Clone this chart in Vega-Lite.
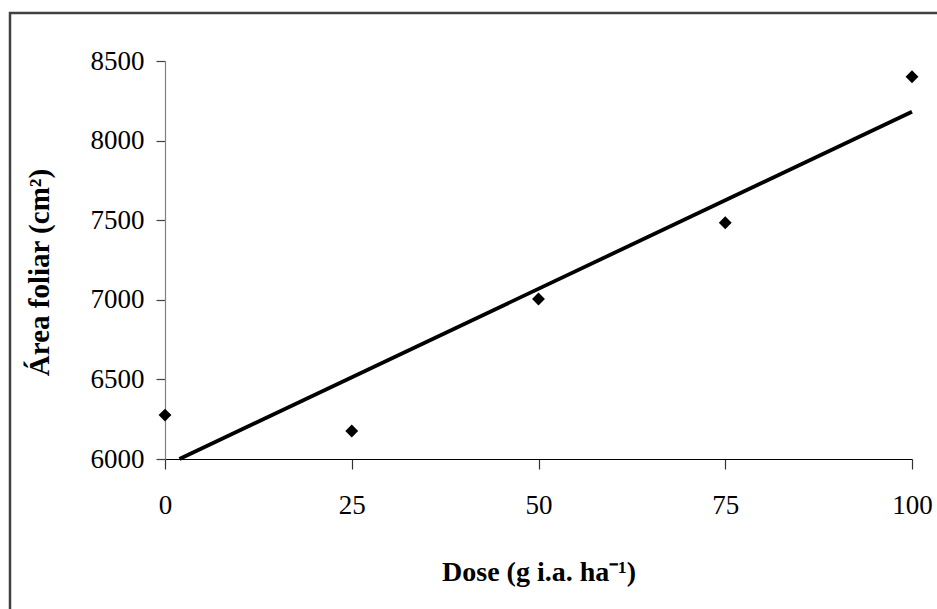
{
  "$schema": "https://vega.github.io/schema/vega-lite/v6.json",
  "width": 932,
  "height": 602,
  "padding": {"left": 10, "top": 13, "right": 0, "bottom": 0},
  "autosize": {"type": "none"},
  "background": "white",
  "config": {
    "view": {"stroke": "#404040", "strokeWidth": 2.5},
    "font": "Liberation Serif"
  },
  "datasets": {
    "points": [
      {"dose": 0, "area": 6276},
      {"dose": 25, "area": 6176},
      {"dose": 50, "area": 7005},
      {"dose": 75, "area": 7484},
      {"dose": 100, "area": 8401}
    ],
    "trend": [
      {"dose": 1.93, "area": 6000},
      {"dose": 100, "area": 8181.2}
    ]
  },
  "layer": [
    {
      "data": {"name": "trend"},
      "mark": {"type": "line", "color": "black", "strokeWidth": 3.8},
      "encoding": {
        "x": {
          "field": "dose", "type": "quantitative",
          "scale": {"domain": [0, 100], "range": [155, 902], "nice": false, "zero": false},
          "axis": {
            "title": "Dose (g i.a. ha⁻¹)",
            "values": [0, 25, 50, 75, 100],
            "format": "d",
            "labelFlush": false,
            "labelOverlap": false,
            "offset": -156,
            "grid": false,
            "domainColor": "black",
            "domainWidth": 1.2,
            "tickColor": "#333333",
            "tickSize": 10,
            "tickWidth": 1.2,
            "labelFont": "Liberation Serif",
            "labelFontSize": 27,
            "labelColor": "black",
            "labelPadding": 23,
            "titleFont": "Liberation Serif",
            "titleFontSize": 28,
            "titleFontWeight": "bold",
            "titleColor": "black",
            "titlePadding": 40
          }
        },
        "y": {
          "field": "area", "type": "quantitative",
          "scale": {"domain": [6000, 8500], "range": [446, 48], "nice": false, "zero": false},
          "axis": {
            "title": "Área foliar (cm²)",
            "values": [6000, 6500, 7000, 7500, 8000, 8500],
            "format": "d",
            "labelFlush": false,
            "labelOverlap": false,
            "offset": -155,
            "grid": false,
            "domainColor": "#808080",
            "domainWidth": 1.2,
            "tickColor": "#404040",
            "tickSize": 9,
            "tickWidth": 1.2,
            "labelFont": "Liberation Serif",
            "labelFontSize": 27,
            "labelColor": "black",
            "labelPadding": 12,
            "titleFont": "Liberation Serif",
            "titleFontSize": 29,
            "titleFontWeight": "bold",
            "titleColor": "black",
            "titlePadding": 36,
            "titleY": 259
          }
        }
      }
    },
    {
      "data": {"name": "points"},
      "mark": {"type": "point", "shape": "diamond", "filled": true, "color": "black", "size": 165, "opacity": 1},
      "encoding": {
        "x": {"field": "dose", "type": "quantitative"},
        "y": {"field": "area", "type": "quantitative"}
      }
    },
    {
      "mark": {"type": "text", "font": "Liberation Serif", "fontSize": 28, "color": "black", "align": "center", "baseline": "middle"},
      "encoding": {
        "x": {"datum": 15.5, "type": "quantitative"},
        "y": {"datum": 8368, "type": "quantitative"},
        "text": {"value": "y = 22,242x + 5957"}
      }
    },
    {
      "mark": {"type": "text", "font": "Liberation Serif", "fontSize": 28, "color": "black", "align": "center", "baseline": "middle"},
      "encoding": {
        "x": {"datum": 15.9, "type": "quantitative"},
        "y": {"datum": 8050, "type": "quantitative"},
        "text": {"value": "R² = 0,9159*"}
      }
    }
  ]
}
